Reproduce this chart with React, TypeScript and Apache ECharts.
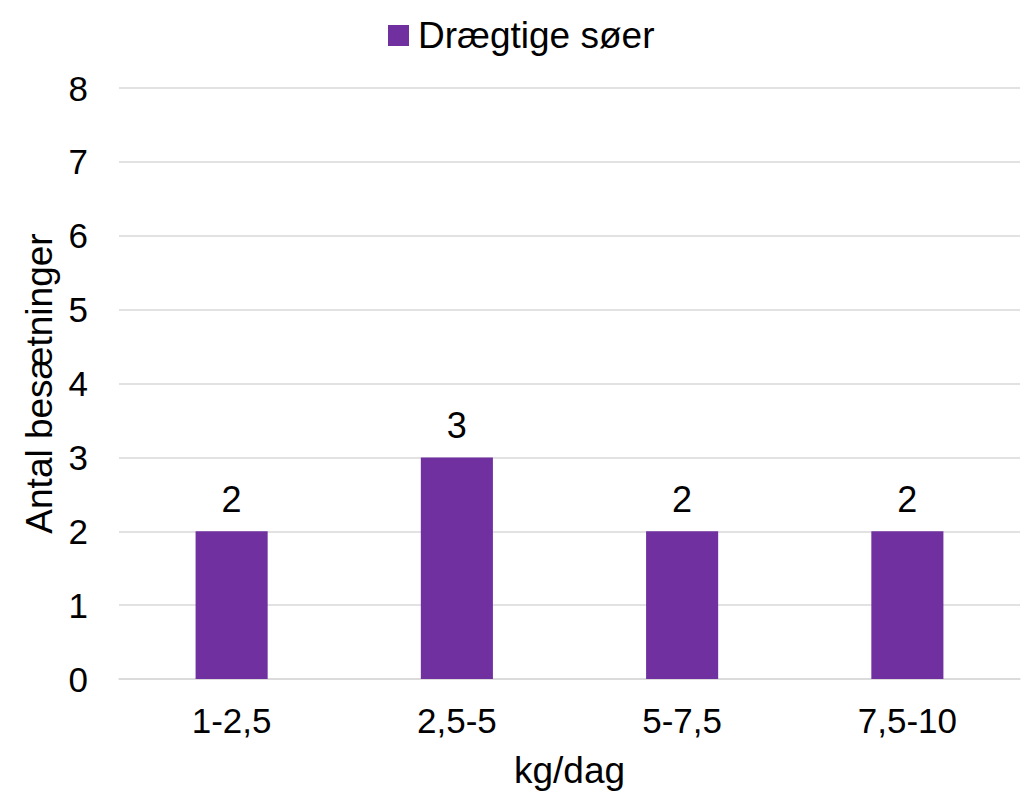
import React, { useEffect, useRef } from "react";
import * as echarts from "echarts";

const categories = ["1-2,5", "2,5-5", "5-7,5", "7,5-10"];
const values = [2, 3, 2, 2];
const seriesName = "Drægtige søer";
const xTitle = "kg/dag";
const yTitle = "Antal besætninger";

export default function App() {
  const ref = useRef<HTMLDivElement>(null);
  useEffect(() => {
    document.body.style.margin = "0";
    const chart = echarts.init(ref.current!, null, { renderer: "svg" });
    const font = "'Liberation Sans', Arial, sans-serif";
    chart.setOption({
      animation: false,
      textStyle: { fontFamily: font },
      legend: {
        top: 12,
        left: 383,
        itemWidth: 21,
        itemHeight: 21,
        icon: "rect",
        itemGap: 6,
        textStyle: { fontSize: 37, color: "#000", fontFamily: font, padding: [0, 0, 0, 4] },
        data: [seriesName],
      },
      grid: { left: 119, right: 12, top: 88, bottom: 116, containLabel: false },
      xAxis: {
        type: "category",
        data: categories,
        name: xTitle,
        nameLocation: "middle",
        nameGap: 73,
        nameTextStyle: { fontSize: 37, color: "#000", fontFamily: font },
        axisLine: { show: true, lineStyle: { color: "#d9d9d9", width: 1.5 } },
        axisTick: { show: false },
        axisLabel: { fontSize: 35, color: "#000", margin: 24, fontFamily: font },
      },
      yAxis: {
        type: "value",
        min: 0,
        max: 8,
        interval: 1,
        name: yTitle,
        nameLocation: "middle",
        nameGap: 60,
        nameRotate: 90,
        nameTextStyle: { fontSize: 37, color: "#000", fontFamily: font },
        axisLine: { show: false },
        axisTick: { show: false },
        axisLabel: { fontSize: 35, color: "#000", margin: 31, fontFamily: font },
        splitLine: { lineStyle: { color: "#d9d9d9", width: 1.5 } },
      },
      series: [
        {
          name: seriesName,
          type: "bar",
          data: values,
          barWidth: "32%",
          itemStyle: { color: "#7030A0" },
          label: {
            show: true,
            position: "top",
            distance: 14,
            fontSize: 36,
            color: "#000",
            fontFamily: font,
          },
        },
      ],
    });
    return () => chart.dispose();
  }, []);
  return <div ref={ref} style={{ width: 1032, height: 795 }} />;
}
